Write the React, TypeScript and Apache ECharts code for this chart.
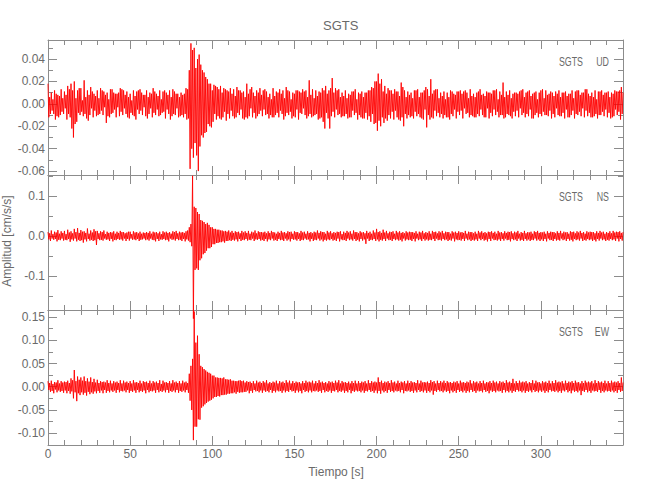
import React, { useEffect, useRef } from 'react';
import * as echarts from 'echarts';

// ---------------- data ----------------
const TITLE = 'SGTS';
const STATION = 'SGTS';
const COMPONENTS = ['UD', 'NS', 'EW'];
const X_NAME = 'Tiempo [s]';
const Y_NAME = 'Amplitud [cm/s/s]';
const AMP_UNIT = 0.001; // stored values are in 10^-3 cm/s/s
// Per-second peak readings: *_UP = positive peak (plotted at t), *_DN = negative peak magnitude (plotted at t + 0.5)

const UD_UP = [
  18, 6, 10, 4, 12, 9, 8, 7, 13, 5,
  11, 8, 16, 13, 18, 12, 20, 5, 12, 14,
  14, 3, 21, 6, 12, 8, 15, 11, 9, 7,
  12, 5, 14, 12, 11, 8, 10, 4, 13, 13,
  10, 9, 9, 10, 14, 13, 12, 8, 11, 6,
  9, 3, 12, 7, 11, 12, 13, 10, 8, 8,
  12, 6, 10, 9, 14, 11, 9, 7, 12, 4,
  11, 12, 10, 8, 12, 6, 13, 11, 9, 9,
  6, 10, 8, 9, 14, 13, 30, 54, 48, 50,
  32, 40, 44, 35, 30, 28, 24, 22, 18, 18,
  12, 17, 16, 15, 13, 16, 10, 14, 13, 12,
  11, 14, 9, 13, 7, 15, 12, 12, 10, 11,
  6, 18, 9, 13, 15, 10, 7, 12, 10, 14,
  8, 12, 13, 11, 6, 9, 4, 14, 7, 11,
  10, 13, 9, 12, 5, 15, 12, 11, 4, 10,
  9, 12, 12, 11, 10, 13, 11, 12, 6, 21,
  8, 13, 5, 12, 7, 11, 10, 14, 12, 16,
  9, 12, 14, 23, 10, 14, 12, 13, 6, 10,
  7, 12, 5, 9, 8, 11, 11, 13, 4, 10,
  9, 11, 6, 10, 10, 12, 12, 15, 14, 20,
  20, 27, 18, 22, 11, 16, 9, 14, 12, 12,
  9, 13, 11, 11, 7, 19, 15, 12, 6, 11,
  8, 10, 5, 12, 12, 13, 6, 10, 10, 12,
  15, 13, 7, 22, 9, 12, 13, 13, 5, 10,
  7, 11, 4, 10, 6, 12, 11, 9, 8, 11,
  11, 12, 9, 11, 12, 10, 5, 13, 7, 9,
  6, 10, 11, 13, 8, 9, 7, 11, 10, 10,
  9, 12, 12, 13, 4, 11, 8, 19, 6, 11,
  8, 12, 5, 9, 10, 10, 9, 11, 12, 13,
  6, 10, 11, 12, 7, 9, 10, 11, 4, 10,
  12, 13, 5, 12, 8, 9, 11, 10, 7, 11,
  9, 12, 6, 10, 10, 11, 7, 9, 9, 12,
  5, 11, 12, 12, 8, 10, 10, 13, 13, 9,
  7, 10, 6, 12, 4, 11, 11, 12, 8, 10,
  10, 11, 6, 10, 9, 12, 11, 11, 12, 15,
  10,
];
const UD_DN = [
  12, 9, 6, 9, 14, 11, 12, 10, 7, 9,
  4, 14, 9, 12, 22, 30, 18, 16, 8, 10,
  7, 11, 9, 13, 15, 10, 4, 12, 6, 11,
  10, 9, 6, 10, 3, 17, 11, 12, 9, 8,
  5, 12, 3, 11, 7, 10, 4, 9, 12, 13,
  8, 10, 11, 14, 5, 9, 6, 10, 3, 11,
  13, 9, 4, 12, 8, 10, 5, 11, 10, 8,
  7, 13, 5, 9, 14, 11, 9, 10, 4, 12,
  11, 10, 12, 9, 14, 13, 58, 40, 48, 35,
  46, 60, 38, 28, 30, 26, 25, 18, 20, 21,
  16, 9, 14, 11, 13, 14, 12, 7, 15, 9,
  13, 6, 11, 13, 12, 8, 10, 5, 13, 14,
  12, 13, 11, 4, 12, 8, 13, 11, 9, 6,
  11, 5, 10, 9, 13, 10, 12, 12, 10, 8,
  12, 6, 9, 14, 11, 8, 10, 7, 13, 11,
  12, 5, 14, 8, 9, 4, 10, 13, 11, 9,
  12, 11, 10, 9, 14, 13, 12, 16, 22, 8,
  13, 22, 11, 7, 12, 5, 10, 9, 12, 11,
  11, 9, 13, 12, 12, 6, 10, 8, 14, 10,
  12, 13, 13, 8, 14, 11, 16, 9, 18, 17,
  24, 15, 20, 12, 17, 13, 15, 10, 13, 7,
  14, 6, 12, 14, 15, 12, 20, 9, 13, 10,
  12, 11, 13, 7, 11, 9, 12, 13, 14, 5,
  21, 10, 14, 12, 13, 6, 11, 8, 12, 9,
  13, 10, 12, 12, 14, 9, 11, 5, 13, 7,
  10, 6, 13, 4, 9, 8, 12, 10, 11, 12,
  12, 9, 11, 5, 10, 12, 12, 4, 13, 8,
  11, 5, 10, 7, 12, 10, 10, 13, 12, 9,
  10, 11, 13, 7, 11, 6, 12, 4, 10, 8,
  12, 9, 11, 5, 13, 13, 10, 8, 12, 9,
  11, 7, 10, 10, 11, 6, 13, 9, 12, 4,
  10, 11, 11, 8, 13, 5, 12, 12, 10, 6,
  13, 9, 10, 7, 11, 4, 12, 6, 11, 8,
  12, 12, 11, 9, 13, 10, 10, 7, 11, 5,
  12, 8, 13, 12, 11, 5, 10, 7, 14, 9,
];

const NS_UP = [
  10, 7, 14, 5, 11, 9, 15, 6, 12, 8,
  13, 5, 16, 9, 12, 7, 18, 10, 20, 8,
  15, 11, 12, 8, 19, 6, 14, 9, 17, 12,
  13, 7, 12, 10, 14, 5, 11, 8, 10, 9,
  12, 6, 11, 8, 13, 10, 10, 7, 9, 11,
  11, 5, 12, 9, 10, 7, 11, 6, 9, 8,
  10, 8, 12, 6, 11, 9, 10, 7, 11, 5,
  12, 9, 11, 8, 10, 6, 12, 10, 13, 7,
  11, 9, 10, 8, 12, 14, 22, 30, 150, 73,
  70, 60, 55, 40, 38, 35, 30, 33, 28, 22,
  22, 18, 18, 16, 16, 14, 14, 12, 13, 11,
  14, 9, 13, 8, 12, 10, 11, 7, 13, 9,
  12, 8, 13, 6, 11, 9, 14, 7, 12, 10,
  10, 9, 11, 7, 12, 8, 13, 10, 9, 6,
  11, 8, 13, 9, 10, 7, 12, 10, 11, 6,
  12, 10, 10, 7, 13, 9, 11, 6, 12, 8,
  10, 7, 11, 9, 14, 8, 12, 10, 10, 6,
  13, 9, 12, 7, 10, 8, 11, 10, 12, 5,
  11, 8, 13, 9, 12, 6, 14, 10, 10, 7,
  12, 9, 10, 7, 13, 8, 11, 6, 14, 9,
  18, 10, 12, 8, 16, 9, 13, 7, 11, 10,
  12, 6, 13, 9, 12, 8, 10, 7, 12, 9,
  11, 10, 10, 8, 12, 6, 11, 9, 13, 7,
  10, 8, 12, 6, 13, 10, 11, 7, 12, 9,
  13, 7, 11, 10, 10, 6, 12, 9, 11, 8,
  12, 9, 10, 8, 13, 6, 11, 10, 10, 7,
  11, 6, 13, 9, 12, 8, 10, 7, 11, 10,
  12, 8, 11, 6, 13, 9, 10, 7, 12, 8,
  11, 10, 12, 7, 11, 9, 13, 6, 10, 8,
  13, 7, 10, 9, 11, 6, 12, 10, 13, 8,
  10, 9, 11, 6, 12, 8, 11, 10, 10, 7,
  12, 8, 13, 7, 11, 9, 10, 6, 12, 10,
  11, 7, 12, 9, 13, 8, 10, 6, 12, 9,
  11, 10, 10, 7, 12, 8, 13, 9, 11, 6,
  10, 8, 12, 7, 13, 9, 11, 10, 12, 8,
  10,
];
const NS_DN = [
  8, 12, 6, 9, 7, 13, 9, 10, 6, 11,
  9, 10, 7, 14, 8, 11, 6, 13, 9, 12,
  10, 16, 8, 13, 7, 11, 9, 12, 10, 22,
  7, 10, 9, 11, 6, 9, 8, 12, 7, 13,
  9, 10, 7, 9, 8, 11, 6, 12, 7, 11,
  6, 9, 8, 10, 7, 12, 9, 8, 6, 10,
  8, 11, 6, 9, 10, 13, 7, 12, 8, 9,
  7, 10, 9, 13, 6, 9, 8, 11, 7, 10,
  9, 12, 7, 13, 8, 11, 15, 25, 205, 84,
  80, 84, 60, 55, 45, 42, 36, 30, 30, 27,
  20, 20, 17, 17, 15, 15, 13, 16, 12, 12,
  10, 12, 9, 11, 8, 13, 7, 12, 9, 10,
  7, 11, 9, 10, 6, 12, 8, 9, 7, 11,
  9, 12, 7, 13, 8, 10, 6, 11, 9, 12,
  7, 10, 9, 12, 6, 11, 8, 13, 7, 9,
  8, 11, 7, 12, 9, 10, 6, 9, 8, 13,
  7, 12, 9, 10, 6, 11, 8, 13, 9, 11,
  8, 10, 7, 11, 9, 12, 6, 13, 8, 10,
  9, 12, 6, 10, 8, 11, 7, 12, 9, 13,
  7, 11, 8, 19, 6, 12, 9, 10, 7, 12,
  8, 13, 9, 11, 7, 12, 6, 10, 9, 12,
  7, 10, 8, 11, 9, 13, 6, 11, 8, 10,
  9, 12, 7, 13, 6, 10, 8, 12, 7, 11,
  8, 11, 9, 10, 7, 12, 6, 10, 9, 11,
  7, 10, 8, 12, 9, 11, 6, 13, 8, 10,
  9, 11, 7, 12, 6, 10, 8, 12, 9, 11,
  8, 12, 6, 10, 7, 11, 9, 13, 7, 12,
  6, 10, 9, 11, 8, 12, 7, 11, 6, 10,
  9, 13, 7, 10, 8, 12, 6, 11, 9, 12,
  7, 11, 8, 12, 9, 10, 6, 11, 8, 12,
  8, 12, 7, 13, 6, 10, 9, 12, 7, 11,
  9, 11, 6, 10, 8, 12, 7, 11, 9, 13,
  7, 10, 8, 11, 6, 12, 9, 11, 7, 10,
  8, 12, 9, 13, 7, 11, 6, 10, 8, 12,
  9, 11, 7, 10, 8, 12, 6, 13, 7, 11,
];

const EW_UP = [
  12, 8, 13, 6, 10, 9, 14, 7, 12, 9,
  11, 10, 13, 8, 18, 14, 36, 12, 22, 15,
  20, 13, 22, 12, 18, 11, 20, 10, 17, 9,
  15, 8, 12, 10, 11, 9, 14, 8, 13, 7,
  12, 9, 11, 8, 14, 7, 13, 9, 11, 8,
  12, 7, 14, 9, 10, 8, 13, 7, 12, 10,
  11, 8, 13, 7, 12, 9, 11, 8, 14, 6,
  13, 9, 10, 8, 12, 7, 14, 9, 11, 8,
  12, 7, 13, 9, 11, 8, 28, 45, 60, 162,
  95, 110, 70, 45, 42, 38, 35, 32, 30, 28,
  24, 24, 20, 20, 19, 19, 18, 20, 16, 16,
  15, 16, 13, 13, 12, 12, 13, 14, 12, 13,
  9, 12, 10, 11, 8, 12, 7, 13, 9, 11,
  8, 12, 9, 14, 7, 10, 8, 11, 9, 13,
  7, 12, 9, 11, 8, 14, 9, 13, 7, 12,
  8, 11, 9, 10, 7, 12, 8, 13, 9, 11,
  9, 13, 7, 12, 8, 14, 9, 11, 8, 10,
  7, 12, 9, 11, 8, 13, 9, 14, 7, 12,
  9, 10, 8, 11, 7, 12, 8, 13, 7, 12,
  8, 11, 9, 12, 7, 14, 8, 12, 9, 11,
  9, 20, 10, 13, 8, 11, 9, 12, 8, 14,
  9, 11, 7, 13, 8, 11, 9, 12, 7, 13,
  8, 12, 9, 10, 8, 14, 7, 13, 9, 10,
  9, 11, 8, 14, 10, 12, 7, 13, 8, 12,
  9, 13, 8, 12, 9, 10, 8, 11, 9, 12,
  7, 13, 9, 10, 8, 11, 9, 14, 7, 12,
  9, 11, 7, 12, 8, 13, 7, 10, 9, 12,
  8, 13, 9, 11, 7, 12, 9, 11, 8, 14,
  9, 11, 8, 17, 7, 12, 8, 13, 9, 11,
  9, 12, 7, 10, 8, 14, 7, 13, 9, 10,
  7, 12, 9, 11, 8, 13, 7, 12, 8, 14,
  9, 11, 9, 12, 7, 13, 8, 11, 9, 12,
  8, 13, 9, 10, 7, 12, 8, 13, 9, 11,
  9, 12, 7, 14, 8, 12, 9, 11, 8, 13,
  7, 12, 8, 13, 9, 11, 9, 12, 8, 20,
  9,
];
const EW_DN = [
  7, 11, 9, 14, 6, 12, 8, 11, 9, 13,
  8, 14, 9, 15, 10, 25, 12, 31, 14, 18,
  12, 17, 13, 19, 11, 16, 12, 15, 10, 14,
  9, 13, 8, 14, 7, 13, 9, 12, 8, 11,
  8, 13, 7, 12, 9, 10, 8, 12, 7, 13,
  9, 11, 8, 13, 7, 12, 9, 11, 8, 14,
  7, 12, 9, 10, 8, 13, 7, 12, 9, 11,
  8, 12, 7, 13, 9, 11, 8, 12, 7, 13,
  9, 11, 8, 12, 7, 13, 30, 50, 115, 86,
  86, 70, 71, 45, 42, 38, 35, 32, 30, 28,
  25, 22, 22, 20, 21, 18, 18, 17, 17, 15,
  15, 14, 14, 12, 15, 11, 13, 12, 12, 11,
  11, 8, 14, 9, 13, 7, 10, 9, 12, 8,
  13, 8, 11, 9, 12, 7, 13, 9, 12, 8,
  10, 9, 13, 8, 12, 9, 11, 7, 10, 9,
  13, 8, 12, 9, 14, 7, 11, 9, 12, 8,
  12, 9, 10, 8, 11, 9, 13, 7, 12, 9,
  11, 8, 13, 9, 10, 7, 12, 9, 11, 8,
  13, 9, 12, 7, 14, 9, 11, 8, 10, 9,
  12, 8, 13, 9, 10, 7, 11, 9, 13, 8,
  14, 9, 15, 8, 12, 9, 13, 7, 11, 9,
  12, 8, 10, 9, 12, 7, 14, 9, 10, 8,
  11, 9, 13, 8, 12, 7, 11, 9, 12, 8,
  13, 9, 12, 8, 17, 9, 11, 7, 10, 9,
  12, 8, 11, 9, 14, 8, 12, 9, 13, 7,
  11, 9, 12, 8, 13, 9, 12, 7, 11, 9,
  13, 8, 10, 9, 12, 7, 11, 9, 14, 8,
  11, 9, 12, 8, 10, 9, 13, 7, 12, 9,
  12, 8, 13, 9, 11, 7, 10, 9, 12, 8,
  13, 9, 11, 8, 12, 7, 11, 9, 12, 8,
  11, 8, 13, 9, 12, 7, 10, 9, 11, 8,
  12, 9, 13, 8, 10, 7, 12, 9, 14, 8,
  11, 9, 12, 8, 18, 9, 11, 7, 12, 9,
  13, 8, 10, 9, 11, 7, 13, 9, 12, 8,
  10, 9, 11, 8, 12, 9, 13, 7, 11, 9,
];

const X_MIN = 0;
const X_MAX = 350;
const X_MAJOR = [0, 50, 100, 150, 200, 250, 300, 350];
const X_LABELS = [0, 50, 100, 150, 200, 250, 300];
const X_MINOR = [10, 20, 30, 40, 60, 70, 80, 90, 110, 120, 130, 140, 160, 170, 180, 190, 210, 220, 230, 240, 260, 270, 280, 290, 310, 320, 330, 340];

const Y_RANGES = [
  [-0.0635, 0.057],
  [-0.1836, 0.152],
  [-0.1255, 0.1653],
];
const Y_MAJOR = [
  [-0.06, -0.04, -0.02, 0, 0.02, 0.04],
  [-0.1, 0, 0.1],
  [-0.1, -0.05, 0, 0.05, 0.1, 0.15],
];
const Y_MINOR = [
  [-0.05, -0.03, -0.01, 0.01, 0.03, 0.05],
  [-0.15, -0.05, 0.05, 0.15],
  [-0.075, -0.025, 0.025, 0.075, 0.125],
];
const Y_DECIMALS = [2, 1, 2];

// ---------------- styles ----------------
const AXIS_COLOR = '#8c8c8c';
const TEXT_COLOR = '#6a6a6a';
const TRACE_COLOR = '#ff0000';
const FONT = "'Liberation Sans', Arial, sans-serif";
const GRID_LEFT = 48;
const GRID_RIGHT = 27;
const PANEL_TOPS = [40, 175, 310];
const PANEL_H = 135;

function traceData(up: number[], dn: number[]) {
  const out: number[][] = [];
  for (let t = 0; t < up.length; t++) {
    out.push([t, up[t] * AMP_UNIT]);
    if (t < dn.length && t + 0.5 <= X_MAX) out.push([t + 0.5, -dn[t] * AMP_UNIT]);
  }
  return out;
}

export default function App() {
  const ref = useRef<HTMLDivElement>(null);

  useEffect(() => {
    if (!ref.current) return;
    const chart = echarts.init(ref.current, undefined, { renderer: 'svg' });
    const traces = [traceData(UD_UP, UD_DN), traceData(NS_UP, NS_DN), traceData(EW_UP, EW_DN)];

    const grids = PANEL_TOPS.map((top) => ({ left: GRID_LEFT, right: GRID_RIGHT, top, height: PANEL_H }));

    const xAxes: any[] = [];
    const yAxes: any[] = [];
    for (let p = 0; p < 3; p++) {
      for (const pos of ['bottom', 'top']) {
        for (const kind of ['major', 'minor']) {
          const major = kind === 'major';
          xAxes.push({
            type: 'value',
            gridIndex: p,
            position: pos,
            min: X_MIN,
            max: X_MAX,
            axisLine: { show: major, onZero: false, lineStyle: { color: AXIS_COLOR, width: 1 } },
            axisTick: {
              show: true,
              inside: true,
              length: major ? 9 : 5,
              customValues: major ? X_MAJOR : X_MINOR,
              lineStyle: { color: AXIS_COLOR, width: 1 },
            },
            axisLabel: {
              show: p === 2 && pos === 'bottom' && major,
              customValues: X_LABELS,
              margin: 3,
              color: TEXT_COLOR,
              fontSize: 12,
              fontFamily: FONT,
            },
            splitLine: { show: false },
            minorTick: { show: false },
          });
        }
      }
      for (const pos of ['left', 'right']) {
        for (const kind of ['major', 'minor']) {
          const major = kind === 'major';
          const dec = Y_DECIMALS[p];
          yAxes.push({
            type: 'value',
            gridIndex: p,
            position: pos,
            min: Y_RANGES[p][0],
            max: Y_RANGES[p][1],
            axisLine: { show: major, onZero: false, lineStyle: { color: AXIS_COLOR, width: 1 } },
            axisTick: {
              show: true,
              inside: true,
              length: major ? 9 : 5,
              customValues: major ? Y_MAJOR[p] : Y_MINOR[p],
              lineStyle: { color: AXIS_COLOR, width: 1 },
            },
            axisLabel: {
              show: pos === 'left' && major,
              customValues: Y_MAJOR[p],
              formatter: (v: number) => v.toFixed(dec),
              margin: 3,
              color: TEXT_COLOR,
              fontSize: 12,
              fontFamily: FONT,
            },
            splitLine: { show: false },
            minorTick: { show: false },
          });
        }
      }
    }

    const series = traces.map((data, p) => ({
      type: 'line',
      name: `${STATION} ${COMPONENTS[p]}`,
      xAxisIndex: p * 4,
      yAxisIndex: p * 4,
      data,
      showSymbol: false,
      symbol: 'none',
      clip: false,
      silent: true,
      lineStyle: { color: TRACE_COLOR, width: 0.9 },
      itemStyle: { color: TRACE_COLOR },
      z: 1,
    }));

    const labelTexts: any[] = [];
    PANEL_TOPS.forEach((top, p) => {
      labelTexts.push({
        type: 'text',
        x: 583,
        y: top + 21,
        scaleX: 0.68,
        style: { text: STATION, fill: TEXT_COLOR, font: `13px ${FONT}`, align: 'right', verticalAlign: 'middle' },
      });
      labelTexts.push({
        type: 'text',
        x: 609,
        y: top + 21,
        scaleX: 0.68,
        style: { text: COMPONENTS[p], fill: TEXT_COLOR, font: `13px ${FONT}`, align: 'right', verticalAlign: 'middle' },
      });
    });

    chart.setOption({
      animation: false,
      backgroundColor: '#ffffff',
      title: {
        text: TITLE,
        left: 318,
        top: 14,
        textStyle: { color: TEXT_COLOR, fontSize: 13, fontWeight: 'normal', fontFamily: FONT },
      },
      grid: grids,
      xAxis: xAxes,
      yAxis: yAxes,
      series,
      graphic: [
        ...labelTexts,
        {
          type: 'text',
          x: 336,
          y: 471.5,
          style: { text: X_NAME, fill: TEXT_COLOR, font: `12px ${FONT}`, align: 'center', verticalAlign: 'middle' },
        },
        {
          type: 'text',
          x: 7,
          y: 241,
          rotation: Math.PI / 2,
          style: { text: Y_NAME, fill: TEXT_COLOR, font: `12px ${FONT}`, align: 'center', verticalAlign: 'middle' },
        },
      ],
    });

    return () => chart.dispose();
  }, []);

  return <div ref={ref} style={{ position: 'fixed', left: 0, top: 0, width: 650, height: 500, background: '#fff' }} />;
}
